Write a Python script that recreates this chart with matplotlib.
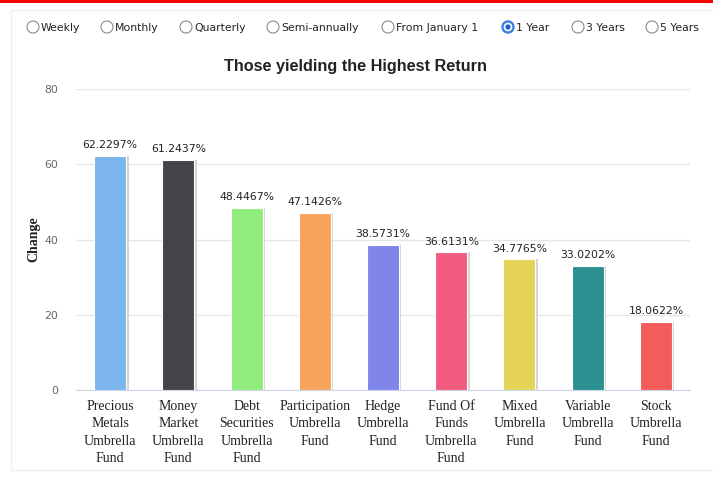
import matplotlib

matplotlib.use("Agg")
import matplotlib.pyplot as plt
from matplotlib.patches import Circle, Rectangle

W, H = 713, 478

funds = [
    "Precious\nMetals\nUmbrella\nFund",
    "Money\nMarket\nUmbrella\nFund",
    "Debt\nSecurities\nUmbrella\nFund",
    "Participation\nUmbrella\nFund",
    "Hedge\nUmbrella\nFund",
    "Fund Of\nFunds\nUmbrella\nFund",
    "Mixed\nUmbrella\nFund",
    "Variable\nUmbrella\nFund",
    "Stock\nUmbrella\nFund",
]
returns = [62.2297, 61.2437, 48.4467, 47.1426, 38.5731, 36.6131, 34.7765, 33.0202, 18.0622]
colors = ["#7cb5ec", "#434348", "#90ed7d", "#f7a35c", "#8085e9",
          "#f15c80", "#e4d354", "#2b908f", "#f45b5b"]
yticks = [0, 20, 40, 60, 80]

periods = ["Weekly", "Monthly", "Quarterly", "Semi-annually", "From January 1",
           "1 Year", "3 Years", "5 Years"]
period_x = [33, 107, 186, 273, 388, 508, 578, 652]  # radio circle centres, px
selected = "1 Year"

fig = plt.figure(figsize=(W / 100, H / 100), dpi=100)

# page overlay in pixel coordinates (y down)
bg = fig.add_axes([0, 0, 1, 1])
bg.set_xlim(0, W)
bg.set_ylim(H, 0)
bg.axis("off")
bg.add_patch(Rectangle((0, 0), W, 3, color="#ff0000", lw=0))
bg.add_patch(Rectangle((11, 10), W, H - 18, fill=False, ec="#f0f0f0", lw=1))
for name, cx in zip(periods, period_x):
    if name == selected:
        bg.add_patch(Circle((cx, 27), 6, fc="#3a7fe0", ec="#3a7fe0", lw=1))
        bg.add_patch(Circle((cx, 27), 3.5, fc="#1a5fd0", ec="white", lw=1.2))
    else:
        bg.add_patch(Circle((cx, 27), 6, fc="white", ec="#8a8a8a", lw=0.8))
    bg.text(cx + 8, 27.5, name, fontsize=7.8, va="center", ha="left",
            color="#222222", family="DejaVu Sans")

fig.text(355 / W, 1 - 66 / H, "Those yielding the Highest Return", ha="center", va="center",
         fontsize=11.7, fontweight="bold", family="Liberation Sans", color="#222222")

ax = fig.add_axes([76 / W, 88 / H, 614 / W, 301 / H])
x = list(range(len(funds)))
# soft shadow behind each bar
ax.bar([i + 0.035 for i in x], returns, width=0.47, color="#d4d4d4", zorder=2)
ax.bar(x, returns, width=0.47, color=colors, edgecolor="white", linewidth=0.8, zorder=3)
for i, v in zip(x, returns):
    ax.annotate(f"{v:.4f}%", (i, v), xytext=(0, 4), textcoords="offset points",
                ha="center", va="bottom", fontsize=7.8, color="#222222", family="DejaVu Sans")

ax.set_xlim(-0.5, len(funds) - 0.5)
ax.set_ylim(0, 80)
ax.set_yticks(yticks)
ax.set_xticks(x)
ax.set_xticklabels(funds, family="Liberation Serif", fontsize=10, color="#222222",
                   linespacing=1.45)
ax.tick_params(axis="y", length=0, pad=13, labelsize=7.8, labelcolor="#666666")
ax.tick_params(axis="x", length=0, pad=7)
ax.grid(axis="y", color="#e6e6e6", lw=1)
ax.set_axisbelow(True)
for s in ["top", "right", "left"]:
    ax.spines[s].set_visible(False)
ax.spines["bottom"].set_color("#ccd6eb")
ax.set_ylabel("Change", family="Liberation Serif", fontsize=10, fontweight="bold",
              color="#222222", labelpad=3)

fig.savefig("out.png", dpi=100)
